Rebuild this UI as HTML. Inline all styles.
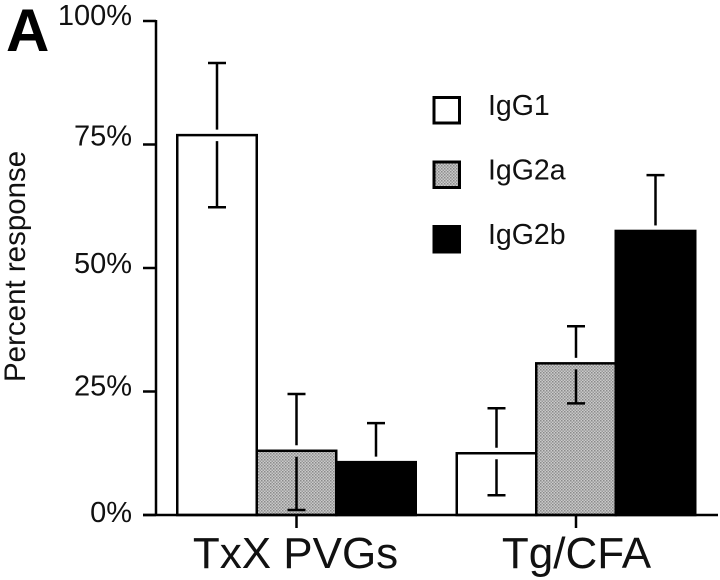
<!DOCTYPE html>
<html lang="en">
<head>
<meta charset="utf-8">
<title>Percent response by IgG subclass</title>
<style>
html,body{margin:0;padding:0;background:#fff;}
svg{display:block;}
text{font-family:"Liberation Sans",Arial,sans-serif;fill:#111;}
</style>
</head>
<body>
<svg id="chart" xmlns="http://www.w3.org/2000/svg" width="720" height="580" viewBox="0 0 720 580">
<defs>
<pattern id="stipple" width="3" height="3" patternUnits="userSpaceOnUse">
<rect width="3" height="3" fill="#cacaca"/>
<rect x="0" y="0" width="1.5" height="1.5" fill="#8a8a8a"/>
<rect x="1.5" y="1.5" width="1.5" height="1.5" fill="#9a9a9a"/>
</pattern>
</defs>
<text x="6" y="51" font-size="60" font-weight="bold" style="fill:#000">A</text>
<text transform="translate(25,382) rotate(-90)" font-size="29.5">Percent response</text>
</svg>
<script>
const categories = ["TxX PVGs", "Tg/CFA"];
const seriesNames = ["IgG1", "IgG2a", "IgG2b"];
const igg1Values = [76.9, 12.5];
const igg2aValues = [13.0, 30.7];
const igg2bValues = [10.7, 57.5];
const igg1ErrHigh = [91.5, 21.6];
const igg2aErrHigh = [24.5, 38.2];
const igg2bErrHigh = [18.6, 68.8];
const igg1ErrLow = [62.3, 4.0];
const igg2aErrLow = [1.0, 22.6];
const igg2bErrLow = [2.8, 46.2];
const tickValues = [100, 75, 50, 25, 0];
const tickLabels = ["100%", "75%", "50%", "25%", "0%"];

const values = [igg1Values, igg2aValues, igg2bValues];
const errHigh = [igg1ErrHigh, igg2aErrHigh, igg2bErrHigh];
const errLow = [igg1ErrLow, igg2aErrLow, igg2bErrLow];

const svg = document.getElementById('chart');
const NS = 'http://www.w3.org/2000/svg';
const fills = ['#fff', 'url(#stipple)', '#000'];
const barWidth = 79.5;

function yScale(v) { return 515 - v * 4.94; }
function groupCenter(g) { return 296.5 + g * 279.5; }
function barLeft(g, s) { return groupCenter(g) + (s - 1.5) * barWidth; }

function make(tag, attrs, parent) {
  const el = document.createElementNS(NS, tag);
  for (const k in attrs) el.setAttribute(k, attrs[k]);
  (parent || svg).appendChild(el);
  return el;
}
function line(x1, y1, x2, y2, w, name) {
  const el = make('line', { x1: x1, y1: y1, x2: x2, y2: y2, stroke: '#000', 'stroke-width': w });
  
  
  return el;
}

// Bars, with black last so its edge sits on top of the stippled bar
seriesNames.forEach(function (name, s) {
  categories.forEach(function (cat, g) {
    const top = yScale(values[s][g]);
    const bar = make('rect', {
      x: barLeft(g, s), y: top, width: barWidth, height: yScale(0) - top,
      fill: fills[s], stroke: '#000', 'stroke-width': 2.5
    });
    
    
  });
});

// Error bars, broken around the bar's top edge
seriesNames.forEach(function (name, s) {
  categories.forEach(function (cat, g) {
    const cx = barLeft(g, s) + barWidth / 2;
    const top = yScale(values[s][g]);
    const hi = yScale(errHigh[s][g]);
    const lo = yScale(errLow[s][g]);
    const id = name.toLowerCase() + '-' + (g + 1);
    line(cx, hi, cx, top - 5.5, 2.5, 'error-upper-' + id);
    line(cx - 9, hi, cx + 9, hi, 2.5, 'error-cap-upper-' + id);
    line(cx, top + 6, cx, lo, 2.5, 'error-lower-' + id);
    line(cx - 9, lo, cx + 9, lo, 2.5, 'error-cap-lower-' + id);
  });
});

// Axes
line(156, yScale(100) - 1, 156, yScale(0) + 1, 2.5, 'y-axis-line');
line(143, yScale(0), 718, yScale(0), 2.5, 'x-axis-line');

// Small per-label baseline offsets seen in the reference's hand-set labels
function labelNudge(i) { return [4, 1, 5, 4, 7][i]; }

tickValues.forEach(function (v, i) {
  const y = yScale(v);
  line(143, y, 156, y, 2.5, 'y-tick-' + v);
  const t = make('text', { x: 132, y: y + labelNudge(i), 'text-anchor': 'end', 'font-size': 29 });
  t.textContent = tickLabels[i];
  
  
});

categories.forEach(function (cat, g) {
  const cx = groupCenter(g);
  line(cx, yScale(0), cx, 528, 2.5, 'x-tick-' + (g + 1));
  const t = make('text', { x: cx - (g === 0 ? 1 : -0.5), y: 568, 'text-anchor': 'middle', 'font-size': 44 });
  t.textContent = cat;
  
  
});

// Legend
seriesNames.forEach(function (name, s) {
  const rowY = 97.5 + s * 64.5;
  const swatch = make('rect', {
    x: 434, y: rowY, width: 25.5, height: 25.5,
    fill: fills[s], stroke: '#000', 'stroke-width': 3
  });
  
  
  const t = make('text', { x: 488, y: rowY + 17.5, 'font-size': 28.5 });
  t.textContent = name;
  
  
});
</script>
</body>
</html>
